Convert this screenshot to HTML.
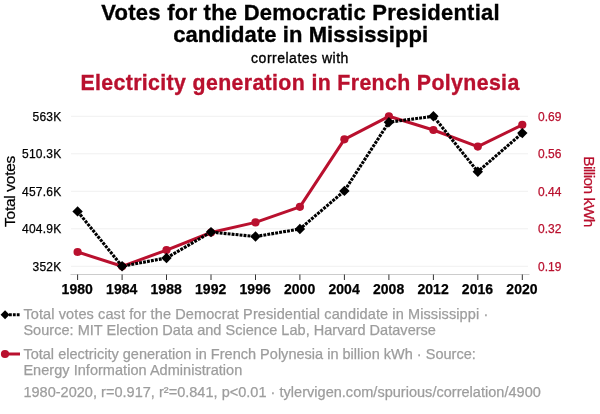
<!DOCTYPE html>
<html><head><meta charset="utf-8"><style>
html,body{margin:0;padding:0;background:#fff;width:600px;height:414px;overflow:hidden}
svg{display:block;font-family:"Liberation Sans",sans-serif;will-change:transform}
</style></head><body>
<svg width="600" height="414" viewBox="0 0 600 414">
<line x1="71" y1="116.3" x2="528" y2="116.3" stroke="#f0f0f0" stroke-width="1"/>
<line x1="71" y1="153.8" x2="528" y2="153.8" stroke="#f0f0f0" stroke-width="1"/>
<line x1="71" y1="191.3" x2="528" y2="191.3" stroke="#f0f0f0" stroke-width="1"/>
<line x1="71" y1="228.8" x2="528" y2="228.8" stroke="#f0f0f0" stroke-width="1"/>
<line x1="71" y1="266.3" x2="528" y2="266.3" stroke="#f0f0f0" stroke-width="1"/>
<line x1="70.5" y1="274.5" x2="529.5" y2="274.5" stroke="#cccccc" stroke-width="1"/>
<line x1="77.6" y1="274.5" x2="77.6" y2="280" stroke="#333" stroke-width="1"/>
<line x1="122.1" y1="274.5" x2="122.1" y2="280" stroke="#333" stroke-width="1"/>
<line x1="166.5" y1="274.5" x2="166.5" y2="280" stroke="#333" stroke-width="1"/>
<line x1="211.0" y1="274.5" x2="211.0" y2="280" stroke="#333" stroke-width="1"/>
<line x1="255.5" y1="274.5" x2="255.5" y2="280" stroke="#333" stroke-width="1"/>
<line x1="299.9" y1="274.5" x2="299.9" y2="280" stroke="#333" stroke-width="1"/>
<line x1="344.4" y1="274.5" x2="344.4" y2="280" stroke="#333" stroke-width="1"/>
<line x1="388.9" y1="274.5" x2="388.9" y2="280" stroke="#333" stroke-width="1"/>
<line x1="433.4" y1="274.5" x2="433.4" y2="280" stroke="#333" stroke-width="1"/>
<line x1="477.8" y1="274.5" x2="477.8" y2="280" stroke="#333" stroke-width="1"/>
<line x1="522.3" y1="274.5" x2="522.3" y2="280" stroke="#333" stroke-width="1"/>
<g font-weight="bold" font-size="14" fill="#000" text-anchor="middle" stroke="#000" stroke-width="0.25">
<text x="77.3" y="294.4" letter-spacing="0.05">1980</text>
<text x="121.8" y="294.4" letter-spacing="0.05">1984</text>
<text x="166.2" y="294.4" letter-spacing="0.05">1988</text>
<text x="210.7" y="294.4" letter-spacing="0.05">1992</text>
<text x="255.2" y="294.4" letter-spacing="0.05">1996</text>
<text x="299.6" y="294.4" letter-spacing="0.05">2000</text>
<text x="344.1" y="294.4" letter-spacing="0.05">2004</text>
<text x="388.6" y="294.4" letter-spacing="0.05">2008</text>
<text x="433.1" y="294.4" letter-spacing="0.05">2012</text>
<text x="477.5" y="294.4" letter-spacing="0.05">2016</text>
<text x="522.0" y="294.4" letter-spacing="0.05">2020</text>
</g>
<g font-size="12" fill="#000" text-anchor="end" stroke="#000" stroke-width="0.25">
<text x="61.5" y="120.8" letter-spacing="0.25">563K</text>
<text x="61.5" y="158.3" letter-spacing="0.25">510.3K</text>
<text x="61.5" y="195.8" letter-spacing="0.25">457.6K</text>
<text x="61.5" y="233.3" letter-spacing="0.25">404.9K</text>
<text x="61.5" y="270.8" letter-spacing="0.25">352K</text>
</g>
<g font-size="12" fill="#b9102e" stroke="#b9102e" stroke-width="0.25">
<text x="538" y="120.8">0.69</text>
<text x="538" y="158.3">0.56</text>
<text x="538" y="195.8">0.44</text>
<text x="538" y="233.3">0.32</text>
<text x="538" y="270.8">0.19</text>
</g>
<text transform="translate(15.3,191.5) rotate(-90)" text-anchor="middle" font-size="15.5" letter-spacing="-0.3" fill="#000" stroke="#000" stroke-width="0.25">Total votes</text>
<text transform="translate(584,191.5) rotate(90)" text-anchor="middle" font-size="15.5" letter-spacing="-0.55" fill="#b9102e" stroke="#b9102e" stroke-width="0.25">Billion kWh</text>
<polyline points="77.6,252.0 122.1,266.3 166.5,250.1 211.0,232.5 255.5,222.4 299.9,206.8 344.4,139.3 388.9,116.3 433.4,130.0 477.8,146.6 522.3,124.8" fill="none" stroke="#b9102e" stroke-width="3" stroke-linejoin="round"/>
<circle cx="77.6" cy="252.0" r="4.1" fill="#b9102e"/>
<circle cx="122.1" cy="266.3" r="4.1" fill="#b9102e"/>
<circle cx="166.5" cy="250.1" r="4.1" fill="#b9102e"/>
<circle cx="211.0" cy="232.5" r="4.1" fill="#b9102e"/>
<circle cx="255.5" cy="222.4" r="4.1" fill="#b9102e"/>
<circle cx="299.9" cy="206.8" r="4.1" fill="#b9102e"/>
<circle cx="344.4" cy="139.3" r="4.1" fill="#b9102e"/>
<circle cx="388.9" cy="116.3" r="4.1" fill="#b9102e"/>
<circle cx="433.4" cy="130.0" r="4.1" fill="#b9102e"/>
<circle cx="477.8" cy="146.6" r="4.1" fill="#b9102e"/>
<circle cx="522.3" cy="124.8" r="4.1" fill="#b9102e"/>
<polyline points="77.6,211.43 122.1,266.30 166.5,257.95 211.0,232.09 255.5,236.53 299.9,228.99 344.4,190.93 388.9,122.20 433.4,116.30 477.8,171.68 522.3,133.06" fill="none" stroke="#000" stroke-width="3.1" stroke-dasharray="2.9,1.1"/>
<path d="M77.6,206.2 L82.8,211.43420669301614 L77.6,216.6 L72.4,211.43420669301614 Z" fill="#000"/>
<path d="M122.1,261.1 L127.3,266.3 L122.1,271.5 L116.9,266.3 Z" fill="#000"/>
<path d="M166.5,252.8 L171.7,257.95223456397656 L166.5,263.2 L161.3,257.95223456397656 Z" fill="#000"/>
<path d="M211.0,226.9 L216.2,232.09046010334177 L211.0,237.3 L205.8,232.09046010334177 Z" fill="#000"/>
<path d="M255.5,231.3 L260.7,236.5287468506384 L255.5,241.7 L250.3,236.5287468506384 Z" fill="#000"/>
<path d="M299.9,223.8 L305.1,228.99020720545462 L299.9,234.2 L294.8,228.99020720545462 Z" fill="#000"/>
<path d="M344.4,185.7 L349.6,190.92741451055008 L344.4,196.1 L339.2,190.92741451055008 Z" fill="#000"/>
<path d="M388.9,117.0 L394.1,122.19802473939183 L388.9,127.4 L383.7,122.19802473939183 Z" fill="#000"/>
<path d="M433.4,111.1 L438.6,116.30000000000001 L433.4,121.5 L428.2,116.30000000000001 Z" fill="#000"/>
<path d="M477.8,166.5 L483.0,171.68463728369642 L477.8,176.9 L472.6,171.68463728369642 Z" fill="#000"/>
<path d="M522.3,127.9 L527.5,133.06172084438478 L522.3,138.3 L517.1,133.06172084438478 Z" fill="#000"/>
<line x1="9" y1="314.7" x2="20" y2="314.7" stroke="#000" stroke-width="3" stroke-dasharray="2.8,1.1"/>
<path d="M5.05,310.2 L9.55,314.7 L5.05,319.2 L0.55,314.7 Z" fill="#000"/>
<line x1="5" y1="354" x2="20" y2="354" stroke="#b9102e" stroke-width="3"/>
<circle cx="5" cy="354" r="4.1" fill="#b9102e"/>
<g font-size="14.5" fill="#9d9d9d" stroke="#9d9d9d" stroke-width="0.25"><text x="23.4" y="318.8" letter-spacing="0.11">Total votes cast for the Democrat Presidential candidate in Mississippi ·</text><text x="23.4" y="334.6" letter-spacing="0.03">Source: MIT Election Data and Science Lab, Harvard Dataverse</text><text x="23.4" y="358.7" letter-spacing="0.015">Total electricity generation in French Polynesia in billion kWh · Source:</text><text x="23.4" y="374.9" letter-spacing="0.04">Energy Information Administration</text><text x="23.4" y="397.1" letter-spacing="0.025">1980-2020, r=0.917, r²=0.841, p&lt;0.01 · tylervigen.com/spurious/correlation/4900</text></g>
<text x="300.6" y="19.5" text-anchor="middle" font-weight="bold" font-size="22" letter-spacing="0.24" fill="#000" stroke="#000" stroke-width="0.35">Votes for the Democratic Presidential</text>
<text x="300.7" y="41.5" text-anchor="middle" font-weight="bold" font-size="22" letter-spacing="0.08" fill="#000" stroke="#000" stroke-width="0.35">candidate in Mississippi</text>
<text x="300" y="63.3" text-anchor="middle" font-size="14" letter-spacing="0.5" fill="#000" stroke="#000" stroke-width="0.35">correlates with</text>
<text x="300" y="89.6" text-anchor="middle" font-weight="bold" font-size="21.3" letter-spacing="0.37" fill="#b9102e" stroke="#b9102e" stroke-width="0.35">Electricity generation in French Polynesia</text>
</svg></body></html>
